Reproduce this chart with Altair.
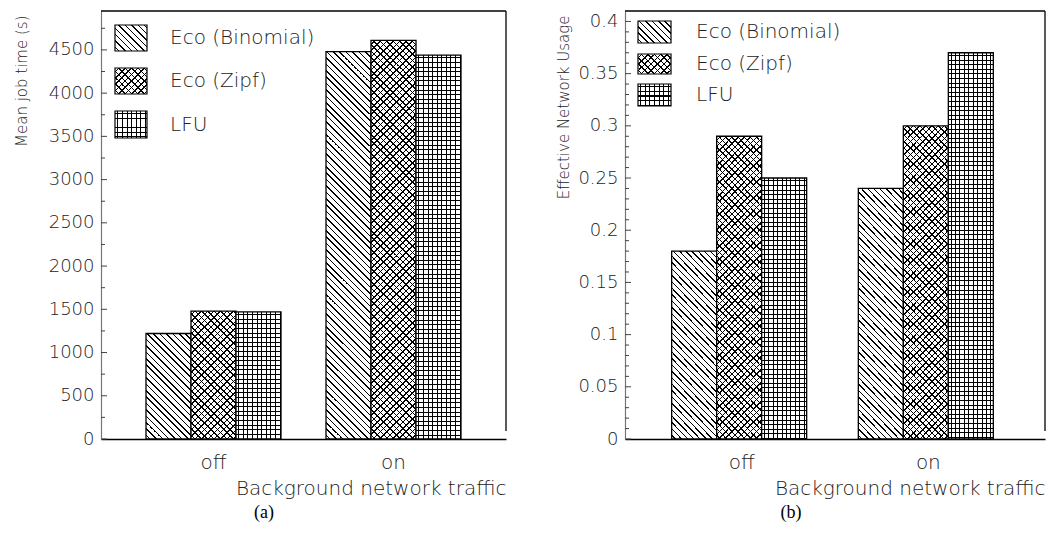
import altair as alt
import pandas as pd

# ---------------- data ----------------
traffic = ["off", "on"]
series = ["Eco (Binomial)", "Eco (Zipf)", "LFU"]
patterns = ["back", "cross", "grid"]

job_time_off = [1220, 1480, 1470]
job_time_on = [4480, 4610, 4440]
usage_off = [0.18, 0.29, 0.25]
usage_on = [0.24, 0.30, 0.37]

job_major = [0, 500, 1000, 1500, 2000, 2500, 3000, 3500, 4000, 4500]
job_minor = [250, 750, 1250, 1750, 2250, 2750, 3250, 3750, 4250, 4750]
usage_major = [0, 0.05, 0.1, 0.15, 0.2, 0.25, 0.3, 0.35, 0.4]
usage_minor = [0.01, 0.02, 0.03, 0.04, 0.06, 0.07, 0.08, 0.09,
               0.11, 0.12, 0.13, 0.14, 0.16, 0.17, 0.18, 0.19,
               0.21, 0.22, 0.23, 0.24, 0.26, 0.27, 0.28, 0.29,
               0.31, 0.32, 0.33, 0.34, 0.36, 0.37, 0.38, 0.39]

FONT = "DejaVu Sans"
WEIGHT = 200
TXT = "#222222"
H = 428
PAD_IN = 0.25
PAD_OUT = 0.25
CLEAR = "rgba(255,255,255,0)"


# ---------------- hatch gradients ----------------
def stops(L, spacing, thick, gap):
    out = [alt.GradientStop(offset=0, color=gap)]
    d = spacing / 2.0
    while d + thick < L:
        a = d / L
        b = (d + thick) / L
        out += [alt.GradientStop(offset=a, color=gap),
                alt.GradientStop(offset=a, color="black"),
                alt.GradientStop(offset=b, color="black"),
                alt.GradientStop(offset=b, color=gap)]
        d += spacing
    out.append(alt.GradientStop(offset=1, color=gap))
    return out


def grad_back(w, h, gap, spacing=6.4):   # "\" lines
    k = (w + h) / (w * w + h * h)
    return alt.LinearGradient(gradient="linear", stops=stops(w + h, spacing, 1.5, gap),
                              x1=0, y1=1, x2=k * w, y2=1 - k * h)


def grad_fwd(w, h, gap, spacing=6.4):    # "/" lines
    k = (w + h) / (w * w + h * h)
    return alt.LinearGradient(gradient="linear", stops=stops(w + h, spacing, 1.5, gap),
                              x1=0, y1=0, x2=k * w, y2=k * h)


def grad_vert(w, h, gap, spacing=4.6):
    return alt.LinearGradient(gradient="linear", stops=stops(w, spacing, 1.0, gap),
                              x1=0, y1=0, x2=1, y2=0)


def grad_horiz(w, h, gap, spacing=4.6):
    return alt.LinearGradient(gradient="linear", stops=stops(h, spacing, 1.0, gap),
                              x1=0, y1=0, x2=0, y2=1)


def fills(pat, w, h):
    if pat == "back":
        return [grad_back(w, h, "white")]
    if pat == "cross":
        return [grad_back(w, h, "white"), grad_fwd(w, h, CLEAR)]
    return [grad_vert(w, h, "white"), grad_horiz(w, h, CLEAR)]


# ---------------- panel ----------------
def panel(v_off, v_on, dmax, W, ytitle, ytx, fmt, major, minor, legend, caption, cap_x):
    rows = []
    for t, vals in zip(traffic, [v_off, v_on]):
        for s, v in zip(series, vals):
            rows.append({"traffic": t, "series": s, "value": v})
    df = pd.DataFrame(rows)

    step = W / (len(traffic) - PAD_IN + 2 * PAD_OUT)
    bar_w = step * (1 - PAD_IN) / len(series)

    x_enc = alt.X("traffic:N", sort=traffic, title="Background network traffic",
                  scale=alt.Scale(domain=traffic, paddingInner=PAD_IN, paddingOuter=PAD_OUT),
                  axis=alt.Axis(labelAngle=0, ticks=False, domainColor="black",
                                domainWidth=1.3, labelPadding=13, titlePadding=6,
                                labelFontSize=20, titleFontSize=20,
                                titleAnchor="end", titleAlign="right"))
    xo = alt.XOffset("series:N", sort=series,
                     scale=alt.Scale(domain=series, paddingInner=0, paddingOuter=0))
    y_enc = alt.Y("value:Q", scale=alt.Scale(domain=[0, dmax], nice=False, zero=True),
                  title=ytitle,
                  axis=alt.Axis(values=major, format=fmt, ticks=False, labelPadding=7,
                                domainColor="#777777", domainWidth=1.2, grid=False,
                                labelFontSize=18, titleFontSize=15,
                                titleAnchor="end", titleAlign="right", titleAngle=-90,
                                titleBaseline="alphabetic", titleX=ytx, titleY=4))

    layers = []
    for r in rows:
        h = r["value"] / dmax * H
        pat = patterns[series.index(r["series"])]
        fl = fills(pat, bar_w, h)
        for i, f in enumerate(fl):
            last = i == len(fl) - 1
            layers.append(
                alt.Chart(df)
                .transform_filter((alt.datum.traffic == r["traffic"]) & (alt.datum.series == r["series"]))
                .mark_bar(fill=f, stroke="black" if last else None,
                          strokeWidth=1.3 if last else 0)
                .encode(x=x_enc, xOffset=xo, y=y_enc)
            )

    # inward ticks
    tdf_major = pd.DataFrame({"value": major})
    tdf_minor = pd.DataFrame({"value": minor})
    layers.append(alt.Chart(tdf_major).mark_rule(color="#444444", strokeWidth=1)
                  .encode(y=y_enc, x=alt.value(0), x2=alt.value(6)))
    layers.append(alt.Chart(tdf_minor).mark_rule(color="#444444", strokeWidth=1)
                  .encode(y=y_enc, x=alt.value(0), x2=alt.value(4)))

    one = pd.DataFrame({"a": [0]})
    # frame: top and right
    layers.append(alt.Chart(one).mark_rule(color="black", strokeWidth=1.3)
                  .encode(x=alt.value(0), x2=alt.value(W), y=alt.value(0)))
    layers.append(alt.Chart(one).mark_rule(color="black", strokeWidth=1.3)
                  .encode(x=alt.value(W), y=alt.value(0), y2=alt.value(H - 8)))

    # legend
    (lx0, lx1, boxes, tx) = legend
    for s, pat, (y0, y1) in zip(series, patterns, boxes):
        fl = fills(pat, lx1 - lx0, y1 - y0)
        for i, f in enumerate(fl):
            last = i == len(fl) - 1
            layers.append(alt.Chart(one).mark_rect(fill=f, stroke="black" if last else None,
                                                   strokeWidth=1.2 if last else 0)
                          .encode(x=alt.value(lx0), x2=alt.value(lx1),
                                  y=alt.value(y0), y2=alt.value(y1)))
        layers.append(alt.Chart(one).mark_text(font=FONT, fontWeight=WEIGHT, fontSize=20,
                                               color=TXT, align="left", baseline="middle")
                      .encode(x=alt.value(tx), y=alt.value((y0 + y1) / 2), text=alt.value(s)))

    # caption
    layers.append(alt.Chart(one).mark_text(font="Liberation Serif", fontSize=18, color="black",
                                           align="center", baseline="middle")
                  .encode(x=alt.value(cap_x), y=alt.value(H + 74), text=alt.value(caption)))

    return alt.layer(*layers).properties(width=W, height=H)


pa = panel(job_time_off, job_time_on, 4950, 405, "Mean job time (s)", -75, "d",
           job_major, job_minor,
           (14, 46, [(14, 40), (57, 83), (100, 127)], 69), "(a)", 163)
pb = panel(usage_off, usage_on, 0.41, 420, "Effective Network Usage", -57, "~g",
           usage_major, usage_minor,
           (13, 46, [(10, 32), (43, 63), (73, 95)], 71), "(b)", 166)

chart = (
    alt.hconcat(pa, pb, spacing=48)
    .properties(padding={"left": 13, "top": 10, "right": 0, "bottom": 0})
    .configure_view(stroke=None)
    .configure_axis(labelFont=FONT, labelColor=TXT, labelFontWeight=WEIGHT,
                    titleFont=FONT, titleColor=TXT, titleFontWeight=WEIGHT)
)

chart.save("out.html", embed_options={"renderer": "svg", "actions": False})
